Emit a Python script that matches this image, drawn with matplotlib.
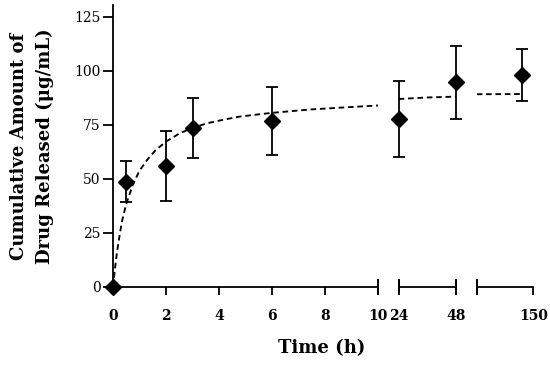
import matplotlib
matplotlib.use("Agg")
import matplotlib.pyplot as plt

# ---- data ----
time_a = [0, 0.5, 2, 3, 6]
release_a = [0, 48.8, 56.0, 73.6, 76.9]
err_a = [0, 9.4, 16.4, 13.7, 15.6]

time_b = [24, 48]
release_b = [77.6, 94.8]
err_b = [17.5, 16.9]

time_c = [144]
release_c = [98.3]
err_c = [12.0]

# dashed fitted curve
fit_t_a = [0, 0.08, 0.15, 0.25, 0.34, 0.5, 0.77, 1.0, 1.3, 1.6, 2.0, 2.5, 3.0, 3.6, 4.2, 4.8, 6.0, 7.5, 9.0, 10]
fit_y_a = [0, 9, 16, 24, 30.5, 38.5, 48.0, 53.8, 59.0, 63.2, 67.3, 71.0, 73.7, 75.9, 77.5, 78.9, 80.6, 82.2, 83.3, 84.0]
fit_t_b = [24, 36, 48]
fit_y_b = [87.0, 87.7, 88.1]
fit_t_c = [120, 144]
fit_y_c = [89.2, 89.3]

ticks_a = [0, 2, 4, 6, 8, 10]
ticks_b = [24, 48]
ticks_c = [150]
yticks = [0, 25, 50, 75, 100, 125]

SERIF = ["DejaVu Serif", "Liberation Serif"]
plt.rcParams["font.family"] = SERIF

fig = plt.figure(figsize=(5.5, 3.65), dpi=100)
W, H = 550.0, 365.0
y_bot, y_top = 287.0, 5.0

def mk(x0, x1):
    return fig.add_axes([x0 / W, (H - y_bot) / H, (x1 - x0) / W, (y_bot - y_top) / H])

ax1 = mk(113.0, 378.0)
ax2 = mk(398.7, 455.7)
ax3 = mk(476.7, 533.3)

LW = 1.3
segments = [
    (ax1, time_a, release_a, err_a, fit_t_a, fit_y_a, ticks_a, (0, 10)),
    (ax2, time_b, release_b, err_b, fit_t_b, fit_y_b, ticks_b, (24, 48)),
    (ax3, time_c, release_c, err_c, fit_t_c, fit_y_c, ticks_c, (120, 150)),
]

for ax, t, y, e, ft, fy, tk, xl in segments:
    ax.plot(ft, fy, color="black", lw=1.35, linestyle=(0, (3, 2)), zorder=2)
    ax.errorbar(t, y, yerr=e, fmt="D", color="black", ms=7.8, elinewidth=LW,
                capsize=4.3, capthick=LW, zorder=3, clip_on=False)
    ax.set_xlim(*xl)
    ax.set_ylim(0, 130.5)
    ax.set_xticks(tk)
    ax.set_xticklabels([str(v) for v in tk], fontweight="bold", fontsize=10)
    ax.tick_params(axis="x", direction="out", length=6, width=LW, pad=10)
    for sp in ["top", "right"]:
        ax.spines[sp].set_visible(False)
    ax.spines["bottom"].set_linewidth(LW)
    ax.patch.set_alpha(0)

ax1.spines["left"].set_linewidth(LW)
ax1.set_yticks(yticks)
ax1.set_yticklabels([str(v) for v in yticks], fontsize=10)
ax1.tick_params(axis="y", direction="out", length=7, width=LW, pad=2)
for ax in (ax2, ax3):
    ax.spines["left"].set_visible(False)
    ax.set_yticks([])

# break markers at segment ends
for ax, xs in ((ax1, [1.0]), (ax2, [0.0, 1.0]), (ax3, [0.0])):
    for xa in xs:
        ax.plot([xa, xa], [0, 0], transform=ax.transAxes, marker="|",
                ms=11, mew=LW, color="black", clip_on=False)

fig.text(32 / W, (H - 146) / H,
         "Cumulative Amount of\nDrug Released (\u03bcg/mL)",
         rotation=90, ha="center", va="center", fontsize=13,
         fontweight="bold", linespacing=1.55, multialignment="center")
fig.text(321.7 / W, (H - 348) / H, "Time (h)", ha="center", va="center",
         fontsize=13, fontweight="bold")

fig.savefig("out.png", dpi=100)
